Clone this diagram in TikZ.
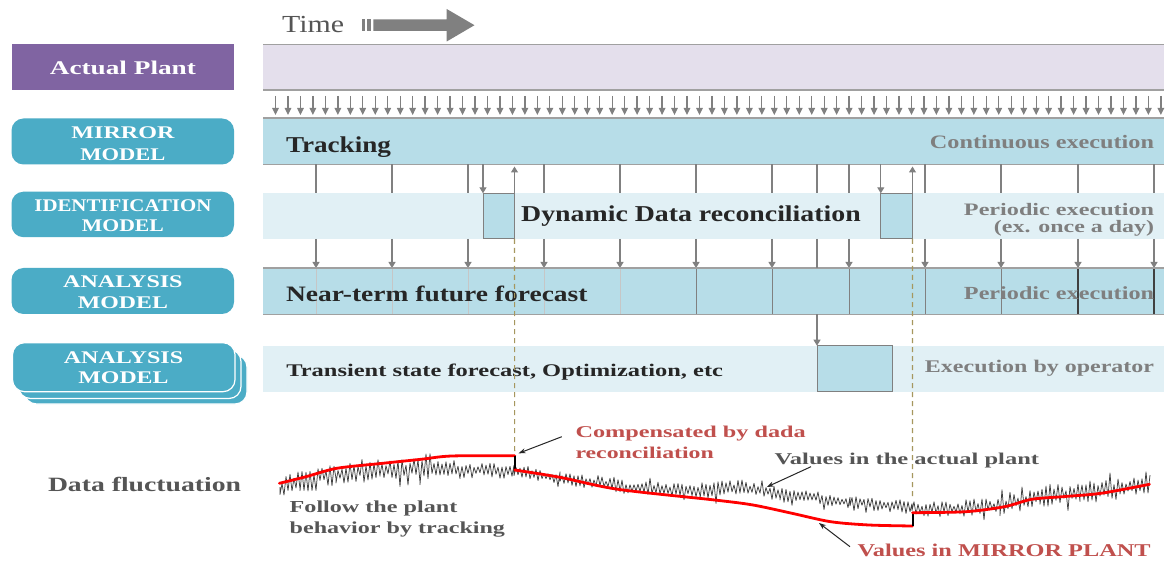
\documentclass[tikz,border=0pt]{standalone}
\usepackage{fontspec}
\setmainfont{Liberation Serif}
\usetikzlibrary{arrows.meta}
\definecolor{plantpurple}{HTML}{8064A2}
\definecolor{plantband}{HTML}{E4DFEC}
\definecolor{modelteal}{HTML}{4BACC6}
\definecolor{bandblue}{HTML}{B7DDE8}
\definecolor{bandlight}{HTML}{E1F0F5}
\definecolor{linegray}{HTML}{808080}
\definecolor{frameg}{HTML}{A0A0A0}
\definecolor{textgray}{HTML}{7F7F7F}
\definecolor{darktext}{HTML}{262626}
\definecolor{midtext}{HTML}{555555}
\definecolor{redtext}{HTML}{C0504D}
\definecolor{dashcol}{HTML}{A6975E}
\newcommand\fitw[3]{{\fontsize{#2bp}{#2bp}\selectfont\resizebox{#1bp}{\height}{#3}}}
\tikzset{
  lbl/.style={inner sep=0pt, outer sep=0pt, font=\bfseries},
  bandbox/.style={rectangle, inner sep=0pt, outer sep=0pt, draw=none, minimum width=901bp, anchor=north west},
  modelbox/.style={rectangle, rounded corners=12bp, fill=modelteal, inner sep=0pt, outer sep=0pt, minimum width=222.5bp, anchor=north west},
  frameline/.style={draw=frameg, line width=1.2bp},
  conn/.style={draw=linegray, line width=1.1bp},
  connarrow/.style={conn, -{Triangle[length=6bp,width=7bp]}},
  smalltick/.style={draw=linegray, line width=1.3bp, -{Triangle[length=7bp,width=6.5bp]}, shorten <=6bp, shorten >=3bp},
  faintsep/.style={draw=linegray!45, line width=0.8bp},
  midsep/.style={draw=linegray, line width=1bp},
  darksep/.style={draw=black!75, line width=1.4bp},
  drbox/.style={rectangle, fill=bandblue, draw=linegray, line width=1bp, inner sep=0pt, outer sep=0pt, anchor=north west},
  dashline/.style={draw=dashcol, line width=1.1bp, dash pattern=on 5bp off 4bp},
  noiseline/.style={draw=black!75, line width=0.75bp, line join=round},
  mirrorline/.style={draw=red, line width=2.8bp, line cap=round},
  stepline/.style={draw=black, line width=2bp},
  annarrow/.style={draw=black!85, line width=1bp, -{Stealth[length=7bp,width=5bp]}},
}
\begin{document}
\begin{tikzpicture}[x=1bp,y=-1bp]
\useasboundingbox (0,0) rectangle (1166,561);
\fill[white] (0,0) rectangle (1166,561);

% ---- Time header
\node[inner sep=0pt, anchor=base west, text=midtext] (time) at (282,32.5) {\fitw{62}{24.5}{Time}};
\fill[linegray] (361.7,19.5) rectangle (365,31);
\fill[linegray] (367.3,19.5) rectangle (370.7,31);
\fill[linegray] (373.3,19.5) -- (446.7,19.5) -- (446.7,9) -- (474.5,25.2) -- (446.7,41.5) -- (446.7,31) -- (373.3,31) -- cycle;

% ---- left labels
\node[rectangle, fill=plantpurple, inner sep=0pt, minimum width=222.5bp, minimum height=45.7bp, anchor=north west] (apbox) at (11.5,44.3) {};
\node[lbl, text=white, anchor=base] (aptxt) at (122.9,75) {\fitw{146}{19.4}{Actual Plant}};

\node[modelbox, minimum height=46bp] (mmbox) at (11.5,118.5) {};
\node[lbl, text=white, anchor=base] (mmt1) at (122.9,138.3) {\fitw{103}{17.8}{MIRROR}};
\node[lbl, text=white, anchor=base] (mmt2) at (122.9,160.7) {\fitw{85}{17.8}{MODEL}};

\node[modelbox, minimum height=45.5bp] (idbox) at (11.5,191.7) {};
\node[lbl, text=white, anchor=base] (idt1) at (122.9,211.7) {\fitw{177}{17.8}{IDENTIFICATION}};
\node[lbl, text=white, anchor=base] (idt2) at (122.9,231.7) {\fitw{82}{17.8}{MODEL}};

\node[modelbox, minimum height=46bp] (anbox) at (11.5,268) {};
\node[lbl, text=white, anchor=base] (ant1) at (122.9,287.3) {\fitw{119.4}{17.8}{ANALYSIS}};
\node[lbl, text=white, anchor=base] (ant2) at (122.9,308.3) {\fitw{90}{17.8}{MODEL}};

\node[modelbox, minimum height=49bp, draw=white, line width=1.2bp] (opbox3) at (24.5,355) {};
\node[modelbox, minimum height=49bp, draw=white, line width=1.2bp] (opbox2) at (18.5,349.5) {};
\node[modelbox, minimum height=49bp, draw=white, line width=1.2bp] (opbox1) at (12.5,342.7) {};
\node[lbl, text=white, anchor=base] (opt1) at (123.5,364) {\fitw{119.4}{17.8}{ANALYSIS}};
\node[lbl, text=white, anchor=base] (opt2) at (123.5,384) {\fitw{90}{17.8}{MODEL}};

\node[lbl, text=midtext, anchor=base west] (dftxt) at (48,491.7) {\fitw{193}{20.3}{Data fluctuation}};

% ---- bands
\node[bandbox, fill=plantband, minimum height=45.7bp] (plant) at (263,44.3) {};
\draw[frameline] (plant.north west) -- (plant.north east);
\draw[frameline] (plant.south west) -- (plant.south east);

\node[bandbox, fill=bandblue, minimum height=46.5bp] (mirror) at (263,118) {};
\draw[frameline] (mirror.north west) -- (mirror.north east);
\draw[frameline] (mirror.south west) -- (mirror.south east);

\node[bandbox, fill=bandlight, minimum height=45.7bp] (ident) at (263,193.3) {};

\node[bandbox, fill=bandblue, minimum height=46.5bp] (anal) at (263,268) {};

\node[bandbox, fill=bandlight, minimum height=46bp] (trans) at (263,345.7) {};

% ---- small arrows plant -> mirror
\foreach \n in {0,...,71} {
  \pgfmathsetmacro\xx{275.5+12.47*\n}
  \coordinate (tk\n) at (\xx,0);
  \draw[smalltick] (plant.south -| tk\n) -- (mirror.north -| tk\n);
}

% ---- periodic grid connectors
\foreach \g [count=\i] in {316,392,468,544,620,696,772,849,925,1001,1078,1154} {
  \coordinate (g\i) at (\g,0);
  \draw[conn] (mirror.south -| g\i) -- (ident.north -| g\i);
  \draw[connarrow] (ident.south -| g\i) -- (anal.north -| g\i);
}
% separators inside the analysis band
\foreach \i in {1,...,5} { \draw[faintsep] (anal.north -| g\i) -- (anal.south -| g\i); }
\foreach \i in {6,...,10} { \draw[midsep] (anal.north -| g\i) -- (anal.south -| g\i); }
\foreach \i in {11,12} { \draw[darksep] (anal.north -| g\i) -- (anal.south -| g\i); }
\draw[frameline] (anal.north west) -- (anal.north east);
\draw[frameline] (anal.south west) -- (anal.south east);

% ---- data reconciliation boxes
\node[drbox, minimum width=31.5bp, minimum height=45.7bp] (dr1) at (483,193.3) {};
\node[drbox, minimum width=31.7bp, minimum height=45.7bp] (dr2) at (880.8,193.3) {};
\draw[connarrow] (mirror.south -| dr1.north west) -- (dr1.north west);
\draw[connarrow, shorten >=2bp] (dr1.north east) -- (mirror.south -| dr1.north east);
\draw[connarrow] (mirror.south -| dr2.north west) -- (dr2.north west);
\draw[connarrow, shorten >=2bp] (dr2.north east) -- (mirror.south -| dr2.north east);

% ---- operator box
\node[drbox, minimum width=75.4bp, minimum height=46bp] (tbox) at (817,345.7) {};
\draw[conn] (mirror.south -| tbox.north west) -- (ident.north -| tbox.north west);
\draw[conn] (ident.south -| tbox.north west) -- (anal.north -| tbox.north west);
\draw[connarrow] (anal.south -| tbox.north west) -- (tbox.north west);

% ---- band texts
\node[lbl, text=darktext, anchor=base west] (trk) at (286,152.7) {\fitw{105}{22.7}{Tracking}};
\node[lbl, text=textgray, anchor=base east] (cont) at (1154,149) {\fitw{224}{19}{Continuous execution}};
\node[lbl, text=darktext, anchor=base west] (ddr) at (521.2,221.7) {\fitw{339.5}{22.7}{Dynamic Data reconciliation}};
\node[lbl, text=textgray, anchor=base east] (per1) at (1154,215.7) {\fitw{190}{17.5}{Periodic execution}};
\node[lbl, text=textgray, anchor=base east] (per1b) at (1154,232.5) {\fitw{160}{17.5}{(ex. once a day)}};
\node[lbl, text=darktext, anchor=base west] (ntf) at (286,301.7) {\fitw{301.5}{22}{Near-term future forecast}};
\node[lbl, text=textgray, anchor=base east] (per2) at (1154,299.3) {\fitw{190}{18.5}{Periodic execution}};
\node[lbl, text=darktext, anchor=base west] (tsf) at (286.3,376.7) {\fitw{436.7}{17.8}{Transient state forecast, Optimization, etc}};
\node[lbl, text=textgray, anchor=base east] (ebo) at (1154,372.7) {\fitw{229}{17.8}{Execution by operator}};

% ---- dashed markers
\coordinate (st1) at (514.7,455.7);
\coordinate (st2) at (912.5,499);
\draw[dashline] (dr1.south east) -- (st1);
\draw[dashline] (dr2.south east) -- (st2);

% ---- data fluctuation: actual plant noise (alternating zigzag)
\pgfmathsetseed{2024}
\draw[noiseline] (280,487)
  \foreach \xa/\ya/\xb/\yb/\am/\ns in {280/487/300/481/13/11, 300/481/336/474/16/19, 336/474/380/470/16/23, 380/470/420/469/15/21, 420/469/460/470/14/21, 460/470/514/471/11/28, 514/471/560/478/9/24, 560/478/620/486/9/31, 620/486/700/491/9/41, 700/491/740/487/12/21, 740/487/780/494/10/21, 780/494/850/502/9/36, 850/502/912/508/9/32, 912/508/960/509/10/25, 960/509/1000/506/12/21, 1000/506/1040/497/14/21, 1040/497/1080/492/15/21, 1080/492/1120/489/15/21, 1120/489/1150/483/14/16}
  { -- plot[domain=\xa:\xb, samples=\ns, variable=\q] (\q,{\ya+(\yb-\ya)*(\q-\xa)/(\xb-\xa)+\am*cos(90*(\q-\xa))*(0.25+0.75*rnd)*(0.75+0.45*(rnd>0.85))}) };

% ---- mirror plant values
\draw[mirrorline] plot[smooth, tension=0.5] coordinates {(279.4,483.3) (306,476.7) (336.8,468.3) (382.7,463.3) (421,459.3) (451.6,456) (514.7,455.7)};
\draw[stepline] (514.7,455.7) -- (514.7,470);
\draw[mirrorline] plot[smooth, tension=0.5] coordinates {(514.7,470) (560,477.3) (618,489.3) (714.6,500) (753,505) (792,513.3) (830.6,521.7) (869,525) (912.5,526)};
\draw[stepline] (912.5,526) -- (912.5,512.7);
\draw[mirrorline] plot[smooth, tension=0.5] coordinates {(912.5,512.7) (965.9,511.7) (1004.5,506.7) (1031.6,499.3) (1062.5,496.7) (1101,493.3) (1149.5,484.3)};

% ---- annotations
\node[lbl, text=midtext, anchor=base west] (fol1) at (289.7,512.7) {\fitw{167.6}{16.8}{Follow the plant}};
\node[lbl, text=midtext, anchor=base west] (fol2) at (289.7,533.3) {\fitw{215.3}{16.8}{behavior by tracking}};
\node[lbl, text=redtext, anchor=base west] (cmp1) at (575.5,437.3) {\fitw{230.3}{16.5}{Compensated by dada}};
\node[lbl, text=redtext, anchor=base west] (cmp2) at (575.5,458.3) {\fitw{138.3}{16.5}{reconciliation}};
\node[lbl, text=midtext, anchor=base west] (vap) at (774.5,464) {\fitw{264.5}{16.5}{Values in the actual plant}};
\node[lbl, text=redtext, anchor=base west] (vmp) at (857.6,556) {\fitw{293}{18}{Values in MIRROR PLANT}};

\coordinate (a1s) at (561.8,436.7);
\coordinate (a1e) at (518.6,453.3);
\coordinate (a2s) at (811,466.7);
\coordinate (a2e) at (766.8,487);
\coordinate (a3s) at (850,546.7);
\coordinate (a3e) at (819,523);
\draw[annarrow] (a1s) -- (a1e);
\draw[annarrow] (a2s) -- (a2e);
\draw[annarrow] (a3s) -- (a3e);
\end{tikzpicture}
\end{document}
